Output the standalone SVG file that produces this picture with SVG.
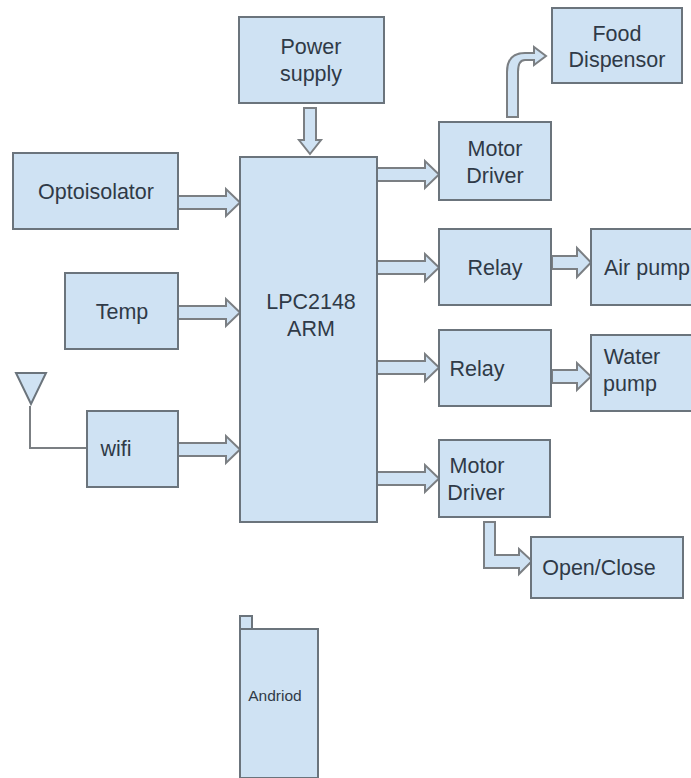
<svg xmlns="http://www.w3.org/2000/svg" width="691" height="778" viewBox="0 0 691 778">
<style>
.b{fill:#cfe2f3;stroke:#6b747c;stroke-width:2}
.a{fill:#cfe2f3;stroke:#7b7f83;stroke-width:2;stroke-linejoin:miter}
text{font-family:"Liberation Sans",Arial,sans-serif;font-size:21.500px;fill:#2f3a47;text-anchor:middle}
</style>
<rect width="691" height="778" fill="#fff"/>
<g id="connectors">
<path class="a" d="M316 108H304V140H299L310 154L321 140H316Z"/>
<path class="a" d="M178 196V209H226V216L240 202.500L226 189V196Z"/>
<path class="a" d="M178 306V319H226V326L240 312.500L226 299V306Z"/>
<path class="a" d="M178 443V456H226V463L240 449.500L226 436V443Z"/>
<path class="a" d="M377 168V181H425V188L439 174.500L425 161V168Z"/>
<path class="a" d="M377 261V274H425V281L439 267.500L425 254V261Z"/>
<path class="a" d="M377 361V374H425V381L439 367.500L425 354V361Z"/>
<path class="a" d="M377 472V485H425V492L439 478.500L425 465V472Z"/>
<path class="a" d="M552 256V269H577V277L591 262.500L577 248V256Z"/>
<path class="a" d="M552 370V383H577V390L591 376.500L577 363V370Z"/>
<path class="a" d="M507 117V72Q507 53 525 53H534V47L546 56L534 65V60H525Q518 60 518 72V117Z"/>
<path class="a" d="M484 522V568H519V574L532 561L519 549V555H495V522Z"/>
<path d="M30 406V448H87" fill="none" stroke="#7b7f83" stroke-width="2"/>
</g>
<g id="power"><rect class="b" x="239" y="17" width="145" height="86"/><text x="311" y="54">Power</text><text x="311" y="81">supply</text></g>
<g id="food"><rect class="b" x="552" y="8" width="130" height="75"/><text x="617" y="41">Food</text><text x="617" y="67">Dispensor</text></g>
<g id="opto"><rect class="b" x="13" y="153" width="165" height="76"/><text x="96" y="199">Optoisolator</text></g>
<g id="temp"><rect class="b" x="65" y="273" width="113" height="76"/><text x="122" y="319">Temp</text></g>
<g id="antenna"><path class="b" d="M16 373H46L31 404Z"/></g>
<g id="wifi"><rect class="b" x="87" y="411" width="91" height="76"/><text x="116" y="456">wifi</text></g>
<g id="lpc"><rect class="b" x="240" y="157" width="137" height="365"/><text x="311" y="309">LPC2148</text><text x="311" y="336">ARM</text></g>
<g id="motor1"><rect class="b" x="439" y="122" width="112" height="78"/><text x="495" y="156">Motor</text><text x="495" y="183">Driver</text></g>
<g id="relay1"><rect class="b" x="439" y="229" width="112" height="76"/><text x="495" y="275">Relay</text></g>
<g id="air"><rect class="b" x="591" y="229" width="110" height="76"/><text x="647" y="275">Air pump</text></g>
<g id="relay2"><rect class="b" x="439" y="330" width="112" height="76"/><text x="477" y="376">Relay</text></g>
<g id="water"><rect class="b" x="591" y="335" width="110" height="76"/><text x="632" y="364">Water</text><text x="630" y="391">pump</text></g>
<g id="motor2"><rect class="b" x="439" y="440" width="111" height="77"/><text x="477" y="473">Motor</text><text x="476" y="500">Driver</text></g>
<g id="open"><rect class="b" x="531" y="537" width="152" height="61"/><text x="599" y="575">Open/Close</text></g>
<g id="android"><rect class="b" x="240" y="629" width="78" height="149"/><rect class="b" x="240" y="616" width="12" height="13"/><text x="275" y="701" style="font-size:15.500px">Andriod</text></g>
</svg>
